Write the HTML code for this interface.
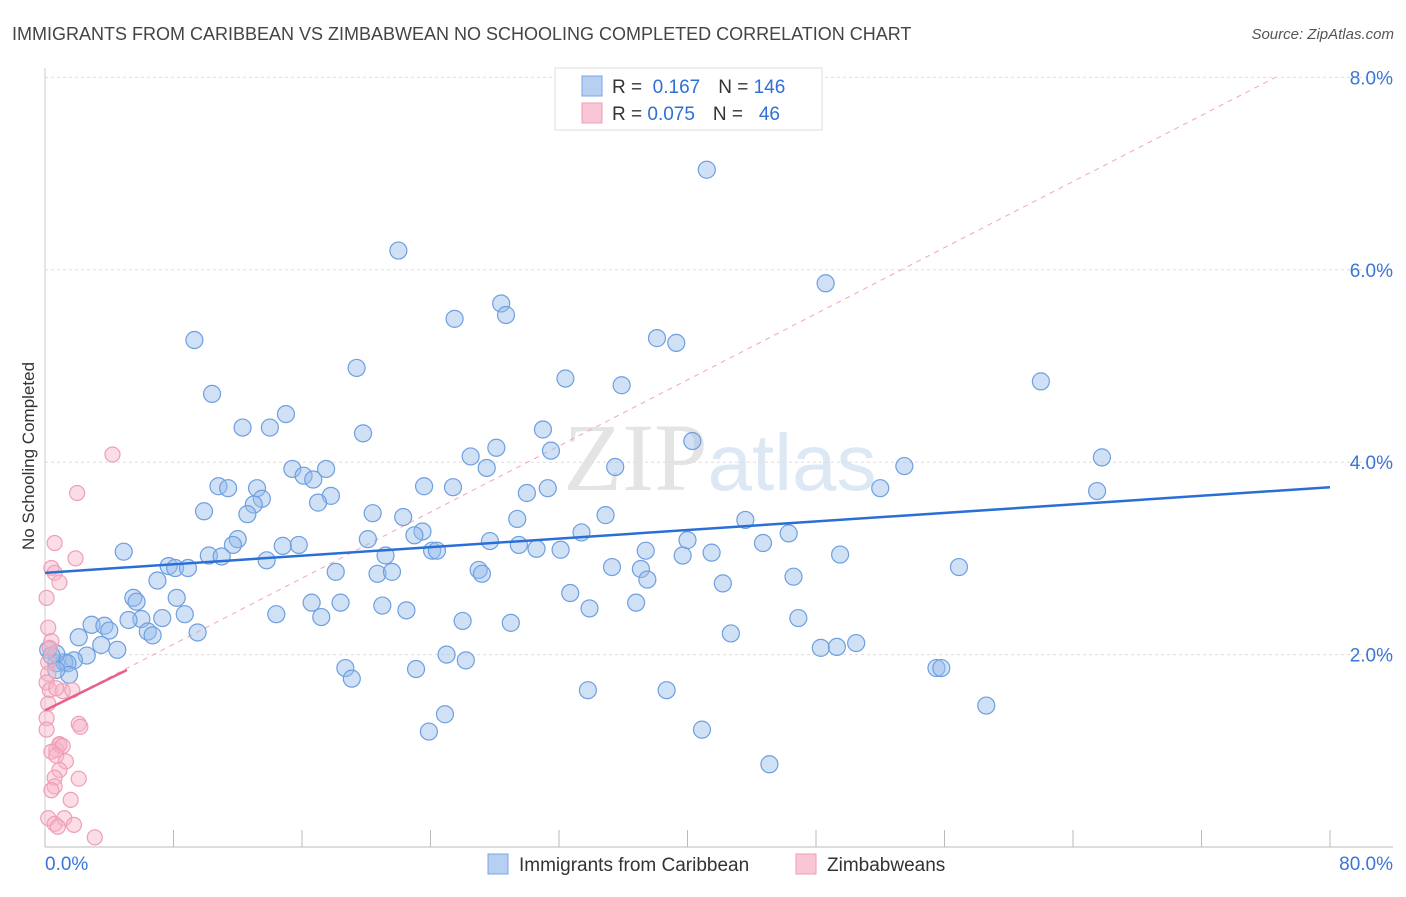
<!DOCTYPE html>
<html><head><meta charset="utf-8"><style>
body{margin:0;background:#fff;font-family:"Liberation Sans",sans-serif}
</style></head><body>
<svg id="chart" width="1406" height="892" xmlns="http://www.w3.org/2000/svg" font-family="Liberation Sans, sans-serif">
<text x="12" y="40" font-size="18" fill="#444">IMMIGRANTS FROM CARIBBEAN VS ZIMBABWEAN NO SCHOOLING COMPLETED CORRELATION CHART</text>
<text x="1394" y="39" font-size="15" fill="#555" text-anchor="end" font-style="italic">Source: ZipAtlas.com</text>
<text transform="translate(34,456) rotate(-90)" font-size="17" fill="#333" text-anchor="middle">No Schooling Completed</text>
<text x="720" y="490" font-size="96" fill="#e4e4e4" text-anchor="middle" font-family="Liberation Serif, serif">ZIP<tspan font-family="Liberation Sans, sans-serif" fill="#dde8f5" font-size="80">atlas</tspan></text>
<g id="grid"></g><g id="axes"></g><g id="marks"></g>
<g>
<rect x="555" y="68" width="267" height="62" fill="#fff" stroke="#ddd"/>
<rect x="582" y="76" width="20" height="20" fill="#b7d0f2" stroke="#7aa6e6"/>
<rect x="582" y="103" width="20" height="20" fill="#f8c6d4" stroke="#ee9fb6"/>
<text x="612" y="93" font-size="19" fill="#333">R = <tspan fill="#2f6fd6">&#160;0.167</tspan><tspan dx="18">N = </tspan><tspan fill="#2f6fd6">146</tspan></text>
<text x="612" y="120" font-size="19" fill="#333">R = <tspan fill="#2f6fd6">0.075</tspan><tspan dx="18">N = </tspan><tspan fill="#2f6fd6">&#160;&#160;46</tspan></text>
</g>
<g>
<rect x="488" y="854" width="20" height="20" fill="#b7d0f2" stroke="#7aa6e6"/>
<text x="519" y="871" font-size="19" fill="#333">Immigrants from Caribbean</text>
<rect x="796" y="854" width="20" height="20" fill="#f8c6d4" stroke="#ee9fb6"/>
<text x="827" y="871" font-size="19" fill="#333">Zimbabweans</text>
</g>
</svg>
<script>
const blueX=[41.2,22.0,48.6,28.4,28.7,25.5,9.3,38.1,39.3,19.4,32.4,35.9,62.0,10.4,15.0,12.3,14.0,19.8,31.0,28.1,40.3,31.5,26.5,65.8,53.5,15.4,17.5,27.5,35.5,10.8,11.4,13.2,16.1,16.7,23.6,25.4,30.0,31.3,52.0,65.5,17.8,13.5,13.0,17.0,9.9,12.6,20.4,22.3,29.4,34.9,43.6,23.5,23.0,33.4,46.3,12.0,11.7,15.8,14.8,20.1,27.7,29.5,40.0,44.7,4.9,10.2,11.0,13.8,21.2,24.1,24.4,30.6,32.1,37.4,41.5,39.7,49.5,7.7,8.1,8.9,18.1,20.7,21.6,27.0,27.2,35.3,37.1,56.9,46.6,7.0,37.5,42.2,32.7,5.5,5.7,8.2,16.6,18.4,21.0,22.5,33.9,36.8,14.4,17.2,8.7,6.0,7.3,5.2,2.9,3.7,4.0,26.0,29.0,46.9,6.4,6.7,9.5,2.1,42.7,3.5,4.5,2.6,1.8,0.7,1.2,1.4,50.5,48.3,49.3,25.0,26.2,18.7,19.1,23.1,55.5,55.8,1.5,0.7,33.8,38.7,24.9,58.6,23.9,40.9,45.1,0.7,0.2,0.4];
const blueY=[7.04,6.20,5.86,5.65,5.53,5.49,5.27,5.29,5.24,4.98,4.87,4.80,4.84,4.71,4.50,4.36,4.36,4.30,4.34,4.15,4.22,4.12,4.06,4.05,3.96,3.93,3.93,3.94,3.95,3.75,3.73,3.73,3.86,3.82,3.75,3.74,3.68,3.73,3.73,3.70,3.65,3.62,3.56,3.58,3.49,3.46,3.47,3.43,3.41,3.45,3.40,3.28,3.24,3.27,3.26,3.20,3.14,3.14,3.13,3.20,3.18,3.14,3.19,3.16,3.07,3.03,3.02,2.98,3.03,3.08,3.08,3.10,3.09,3.08,3.06,3.03,3.04,2.92,2.90,2.90,2.86,2.84,2.86,2.88,2.84,2.91,2.89,2.91,2.81,2.77,2.78,2.74,2.64,2.59,2.55,2.59,2.54,2.54,2.51,2.46,2.48,2.54,2.42,2.39,2.42,2.37,2.38,2.36,2.31,2.30,2.25,2.35,2.33,2.38,2.24,2.20,2.23,2.18,2.22,2.10,2.05,1.99,1.94,1.91,1.92,1.91,2.12,2.07,2.08,2.00,1.94,1.86,1.75,1.85,1.86,1.86,1.79,1.84,1.63,1.63,1.38,1.47,1.20,1.22,0.86,2.01,2.05,1.99];
const pinkX=[4.2,2.0,0.6,1.9,0.4,0.6,0.9,0.1,0.2,0.4,0.3,0.2,0.2,0.1,0.3,1.1,1.7,0.7,0.2,0.1,0.1,2.1,2.2,0.9,0.7,0.9,1.1,0.4,0.7,1.3,0.9,0.6,2.1,0.6,0.4,1.6,0.2,0.6,1.2,1.8,0.8,3.1];
const pinkY=[4.08,3.68,3.16,3.00,2.90,2.85,2.75,2.59,2.28,2.14,2.07,1.92,1.80,1.71,1.63,1.62,1.63,1.65,1.49,1.34,1.22,1.28,1.25,1.06,1.01,1.07,1.05,0.99,0.95,0.89,0.80,0.72,0.71,0.63,0.59,0.49,0.30,0.24,0.30,0.23,0.21,0.10];
const yTicks=[2,4,6,8];
const yTickLabels=["2.0%","4.0%","6.0%","8.0%"];
const blueTrend=[2.85,3.74];
const pinkTrend=[1.42,1.84];
const pinkDash=[1.42,8.0];

const NS="http://www.w3.org/2000/svg";
const X0=45,X1=1330,Y0=847,Ypp=96.2;
const sx=v=>X0+(v/80)*(X1-X0);
const sy=v=>Y0-v*Ypp;
function mk(tag,attrs,parent){const e=document.createElementNS(NS,tag);for(const k in attrs)e.setAttribute(k,attrs[k]);document.getElementById(parent).appendChild(e);return e;}
yTicks.forEach((t,i)=>{
 const g=mk('line',{x1:X0,x2:1393,y1:sy(t),y2:sy(t),stroke:'#ddd','stroke-dasharray':'3,3'},'grid');
 
 
 const l=mk('text',{x:1393,y:sy(t)+7,'font-size':19,fill:'#3a75d8','text-anchor':'end'},'axes');
 l.textContent=yTickLabels[i];
 
 
});
const ax=mk('line',{x1:X0,x2:1393,y1:Y0,y2:Y0,stroke:'#bbb'},'axes');


const ay=mk('line',{x1:X0,x2:X0,y1:68,y2:Y0,stroke:'#ccc'},'axes');


for(let i=0;i<=10;i++){
 const t=mk('line',{x1:sx(i*8),x2:sx(i*8),y1:830,y2:Y0,stroke:'#bbb'},'axes');
 
 
}
const xl0=mk('text',{x:45,y:870,'font-size':19,fill:'#3a75d8'},'axes');xl0.textContent='0.0%';


const xl1=mk('text',{x:1393,y:870,'font-size':19,fill:'#3a75d8','text-anchor':'end'},'axes');xl1.textContent='80.0%';


const pd=mk('line',{x1:sx(0),y1:sy(pinkDash[0]),x2:sx(76.6),y2:sy(pinkDash[1]),stroke:'#f0a5bb','stroke-dasharray':'5,5','stroke-width':1},'marks');


blueX.forEach((x,i)=>{
 const c=mk('circle',{cx:sx(x),cy:sy(blueY[i]),r:8.5,fill:'rgba(150,188,236,0.45)',stroke:'#6e9fe0','stroke-width':1.2},'marks');
 
 
});
pinkX.forEach((x,i)=>{
 const c=mk('circle',{cx:sx(x),cy:sy(pinkY[i]),r:7.5,fill:'rgba(246,180,200,0.45)',stroke:'#ee9fb6','stroke-width':1.2},'marks');
 
 
});
const bt=mk('line',{x1:sx(0),y1:sy(blueTrend[0]),x2:sx(80),y2:sy(blueTrend[1]),stroke:'#2a6fd6','stroke-width':2.5},'marks');


const pt=mk('line',{x1:sx(0),y1:sy(pinkTrend[0]),x2:sx(5.1),y2:sy(pinkTrend[1]),stroke:'#e8608a','stroke-width':2.5},'marks');


</script>
</body></html>
